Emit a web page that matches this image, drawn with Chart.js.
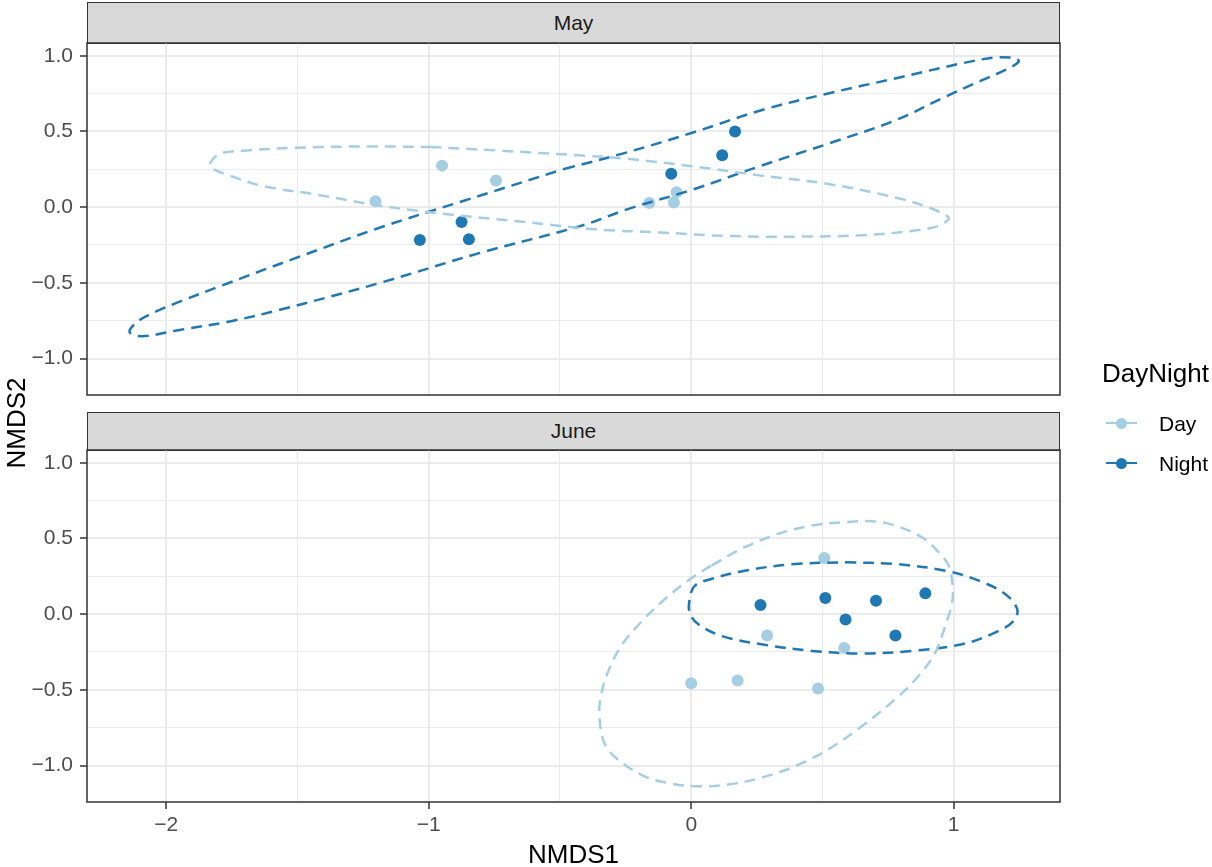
<!DOCTYPE html>
<html>
<head>
<meta charset="utf-8">
<script src="https://cdn.jsdelivr.net/npm/chart.js@4.4.1/dist/chart.umd.min.js"></script>
<style>
  body { margin: 0; width: 1212px; height: 867px; position: relative; background: #fff; overflow: hidden;
         font-family: "Liberation Sans", Arial, sans-serif; }
  canvas { position: absolute; left: 0; }
  .strip { position: absolute; left: 87px; width: 973px; background: #d9d9d9; border: 1.5px solid #333;
           box-sizing: border-box; text-align: center; color: #1a1a1a; font-size: 21px; }
  .txt { position: absolute; white-space: nowrap; color: #000; }
  .kline { position: absolute; height: 2px; width: 31px; left: 1106px; }
  .kdot { position: absolute; width: 11px; height: 11px; border-radius: 50%; left: 1116px; }
</style>
</head>
<body>
<div class="strip" style="top:2px;height:42px;line-height:39px;">May</div>
<div class="strip" style="top:412px;height:39px;line-height:36px;">June</div>
<canvas id="c1" width="1212" height="420" style="top:0"></canvas>
<canvas id="c2" width="1212" height="447" style="top:420px"></canvas>

<div class="txt" style="left:87px;width:973px;text-align:center;top:841px;font-size:26px;line-height:26px;">NMDS1</div>
<div class="txt" style="left:-184px;width:400px;text-align:center;top:410px;font-size:26px;line-height:26px;transform:rotate(-90deg);">NMDS2</div>

<div class="txt" style="left:1102px;top:360px;font-size:26px;line-height:26px;">DayNight</div>
<div class="kline" style="top:422px;background:#A6CEE3"></div>
<div class="kdot" style="top:417.5px;background:#A6CEE3"></div>
<div class="txt" style="left:1159px;top:412.5px;font-size:21px;line-height:21px;">Day</div>
<div class="kline" style="top:462px;background:#1F78B4"></div>
<div class="kdot" style="top:457.5px;background:#1F78B4"></div>
<div class="txt" style="left:1159px;top:452.5px;font-size:21px;line-height:21px;">Night</div>

<script>
// NMDS scores
var mayDayX = [-1.203, -0.949, -0.744, -0.160, -0.066, -0.056];
var mayDayY = [0.038, 0.274, 0.175, 0.027, 0.031, 0.098];
var mayNightX = [-1.034, -0.875, -0.847, -0.076, 0.118, 0.167];
var mayNightY = [-0.217, -0.098, -0.213, 0.221, 0.343, 0.500];
var junDayX = [0.000, 0.177, 0.289, 0.483, 0.507, 0.583];
var junDayY = [-0.457, -0.439, -0.141, -0.492, 0.371, -0.223];
var junNightX = [0.264, 0.511, 0.588, 0.704, 0.778, 0.892];
var junNightY = [0.060, 0.106, -0.035, 0.088, -0.141, 0.137];

// ellipse outlines (loops start on a flat stretch)
var mayDayEllX = [-0.994,-0.739,-0.420,-0.242,0.013,0.267,0.522,0.777,0.904,0.974,0.981,0.943,0.841,0.650,0.395,0.140,-0.115,-0.370,-0.675,-0.930,-1.185,-1.439,-1.630,-1.758,-1.822,-1.834,-1.796,-1.694,-1.503,-1.248,-0.994];
var mayDayEllY = [0.397,0.374,0.341,0.319,0.268,0.208,0.153,0.064,-0.002,-0.058,-0.080,-0.124,-0.157,-0.186,-0.195,-0.191,-0.168,-0.146,-0.091,-0.047,0.009,0.086,0.138,0.208,0.252,0.286,0.352,0.374,0.392,0.401,0.397];
var mayNightEllX = [-0.484,-0.242,0.013,0.267,0.522,0.777,1.032,1.159,1.235,1.248,1.197,1.096,0.968,0.777,0.522,0.267,0.013,-0.242,-0.420,-0.802,-1.185,-1.567,-1.758,-1.949,-2.090,-2.140,-2.108,-2.038,-1.961,-1.796,-1.503,-1.185,-0.866,-0.484];
var mayNightEllY = [0.252,0.363,0.496,0.640,0.751,0.850,0.950,0.988,0.983,0.961,0.906,0.829,0.729,0.573,0.419,0.274,0.120,-0.013,-0.124,-0.301,-0.500,-0.678,-0.755,-0.811,-0.853,-0.825,-0.755,-0.689,-0.633,-0.523,-0.334,-0.135,0.042,0.252];
var junDayEllX = [0.076,-0.013,-0.115,-0.204,-0.267,-0.318,-0.344,-0.350,-0.331,-0.280,-0.178,-0.089,0.013,0.140,0.267,0.395,0.522,0.650,0.777,0.866,0.930,0.968,0.994,0.996,0.981,0.943,0.879,0.777,0.688,0.586,0.459,0.331,0.204,0.076];
var junDayEllY = [0.320,0.221,0.077,-0.077,-0.210,-0.386,-0.541,-0.673,-0.850,-0.960,-1.071,-1.115,-1.137,-1.126,-1.081,-1.005,-0.894,-0.740,-0.563,-0.409,-0.254,-0.077,0.077,0.187,0.320,0.409,0.508,0.585,0.614,0.607,0.585,0.530,0.442,0.320];
var junNightEllX = [0.586,0.777,0.968,1.096,1.197,1.242,1.229,1.159,1.032,0.841,0.650,0.459,0.267,0.115,0.026,-0.006,-0.006,0.013,0.076,0.204,0.395,0.586];
var junNightEllY = [0.342,0.331,0.287,0.221,0.132,0.033,-0.044,-0.121,-0.199,-0.243,-0.260,-0.243,-0.199,-0.144,-0.066,0.011,0.099,0.187,0.232,0.287,0.331,0.342];

var xMin = -2.302, xMax = 1.405;
var yMin = -1.241, yMax = 1.084;
var dayCol = '#A6CEE3', nightCol = '#1F78B4';

Chart.defaults.font.family = '"Liberation Sans", Arial, sans-serif';

function pts(xs, ys) {
  return xs.map(function (x, i) { return { x: x, y: ys[i] }; });
}
function minus(s) { return s.replace('-', '\u2212'); }
function isHalf(v) { return Math.abs(v * 2 - Math.round(v * 2)) < 1e-9; }

var panelBorder = {
  id: 'panelBorder',
  afterDatasetsDraw: function (chart) {
    var a = chart.chartArea, c = chart.ctx;
    c.save();
    c.strokeStyle = '#333';
    c.lineWidth = 1.5;
    c.strokeRect(a.left, a.top, a.right - a.left, a.bottom - a.top);
    c.restore();
  }
};

function makePanel(id, dayX, dayY, nightX, nightY, dEx, dEy, nEx, nEy, bottom) {
  var ell = function (xs, ys, col) {
    return { type: 'line', data: pts(xs, ys), borderColor: col, borderWidth: 2.5, borderDash: [11, 7],
             pointRadius: 0, tension: 0.35, fill: false };
  };
  var dots = function (xs, ys, col) {
    return { data: pts(xs, ys), backgroundColor: col, borderColor: col, pointRadius: 6, borderWidth: 0 };
  };
  return new Chart(document.getElementById(id), {
    type: 'scatter',
    data: {
      datasets: [
        ell(dEx, dEy, dayCol),
        ell(nEx, nEy, nightCol),
        dots(dayX, dayY, dayCol),
        dots(nightX, nightY, nightCol)
      ]
    },
    options: {
      responsive: false,
      animation: false,
      layout: { padding: { left: 0, right: 152, top: bottom ? 30 : 43, bottom: bottom ? 0 : 25 } },
      plugins: { legend: { display: false }, tooltip: { enabled: false } },
      scales: {
        x: {
          type: 'linear', min: xMin, max: xMax,
          border: { display: false },
          ticks: {
            display: bottom, stepSize: 0.5, includeBounds: false, autoSkip: false, maxRotation: 0,
            padding: 4, color: '#4d4d4d', font: { size: 21 },
            callback: function (v) { return Number.isInteger(v) ? minus(String(v)) : ''; }
          },
          grid: {
            color: '#ebebeb',
            lineWidth: function (c) { return c.tick && Number.isInteger(c.tick.value) ? 2 : 1; },
            drawTicks: bottom, tickLength: 7, tickWidth: 1.5,
            tickColor: function (c) { return c.tick && Number.isInteger(c.tick.value) ? '#333' : 'rgba(0,0,0,0)'; }
          },
          afterFit: function (s) { s.height = bottom ? 65 : 0; }
        },
        y: {
          type: 'linear', min: yMin, max: yMax,
          border: { display: false },
          ticks: {
            stepSize: 0.25, includeBounds: false, autoSkip: false,
            padding: 7, color: '#4d4d4d', font: { size: 21 },
            callback: function (v) { return isHalf(v) ? minus(v.toFixed(1)) : ''; }
          },
          grid: {
            color: '#ebebeb',
            lineWidth: function (c) { return c.tick && isHalf(c.tick.value) ? 2 : 1; },
            tickLength: 7, tickWidth: 1.5,
            tickColor: function (c) { return c.tick && isHalf(c.tick.value) ? '#333' : 'rgba(0,0,0,0)'; }
          },
          afterFit: function (s) { s.width = 87; }
        }
      }
    },
    plugins: [panelBorder]
  });
}

makePanel('c1', mayDayX, mayDayY, mayNightX, mayNightY, mayDayEllX, mayDayEllY, mayNightEllX, mayNightEllY, false);
makePanel('c2', junDayX, junDayY, junNightX, junNightY, junDayEllX, junDayEllY, junNightEllX, junNightEllY, true);
</script>
</body>
</html>
